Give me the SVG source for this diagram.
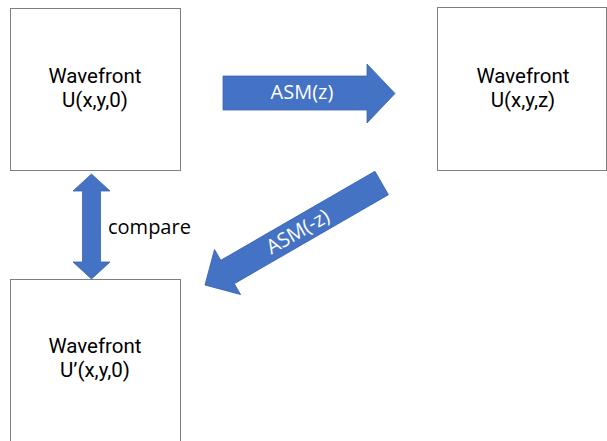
<svg xmlns="http://www.w3.org/2000/svg" width="607" height="441" viewBox="0 0 607 441">
  <style>
    .box { fill: #ffffff; stroke: #7f7f7f; stroke-width: 1; }
    .lbl { font-family: Roboto, "Noto Sans", "Liberation Sans", sans-serif; font-size: 20.5px; fill: #000000; text-anchor: middle; }
    .arrow { fill: #4472c4; stroke: #3a64b0; stroke-width: 0.8; }
    .albl { font-family: "Open Sans", "Noto Sans", "Liberation Sans", sans-serif; font-size: 20px; fill: #ffffff; text-anchor: middle; }
    .side { font-family: "Open Sans", "Noto Sans", "Liberation Sans", sans-serif; font-size: 20px; fill: #000000; }
  </style>
  <rect width="607" height="441" fill="#ffffff"/>

  <g id="node-u0">
    <rect class="box" x="10.5" y="8.5" width="170" height="162"/>
    <text class="lbl" x="95" y="83">Wavefront</text>
    <text class="lbl" x="95" y="107">U(x,y,0)</text>
  </g>

  <g id="node-uz">
    <rect class="box" x="437.5" y="7.5" width="169" height="163"/>
    <text class="lbl" x="523" y="83">Wavefront</text>
    <text class="lbl" x="523" y="107">U(x,y,z)</text>
  </g>

  <g id="node-u0prime">
    <rect class="box" x="10.5" y="279.5" width="170" height="170"/>
    <text class="lbl" x="95" y="353">Wavefront</text>
    <text class="lbl" x="95" y="377">U’(x,y,0)</text>
  </g>

  <g id="connectors">
    <g id="edge-asm-z">
      <polygon class="arrow" points="223,76 367,76 367,64 395,93.5 367,123 367,110 223,110"/>
      <text class="albl" x="302" y="98.5">ASM(z)</text>
    </g>
    <g id="edge-asm-minus-z" transform="translate(205,285) rotate(-30)">
      <polygon class="arrow" points="0,0 26,-26 26,-13.5 204,-13.5 204,13.5 26,13.5 26,26"/>
      <text class="albl" x="107" y="7">ASM(-z)</text>
    </g>
    <g id="edge-compare">
      <polygon class="arrow" points="91.5,174 110,191 100.5,191 100.5,262 110,262 91.5,279 73,262 82.5,262 82.5,191 73,191"/>
      <text class="side" x="108" y="234">compare</text>
    </g>
  </g>
</svg>
